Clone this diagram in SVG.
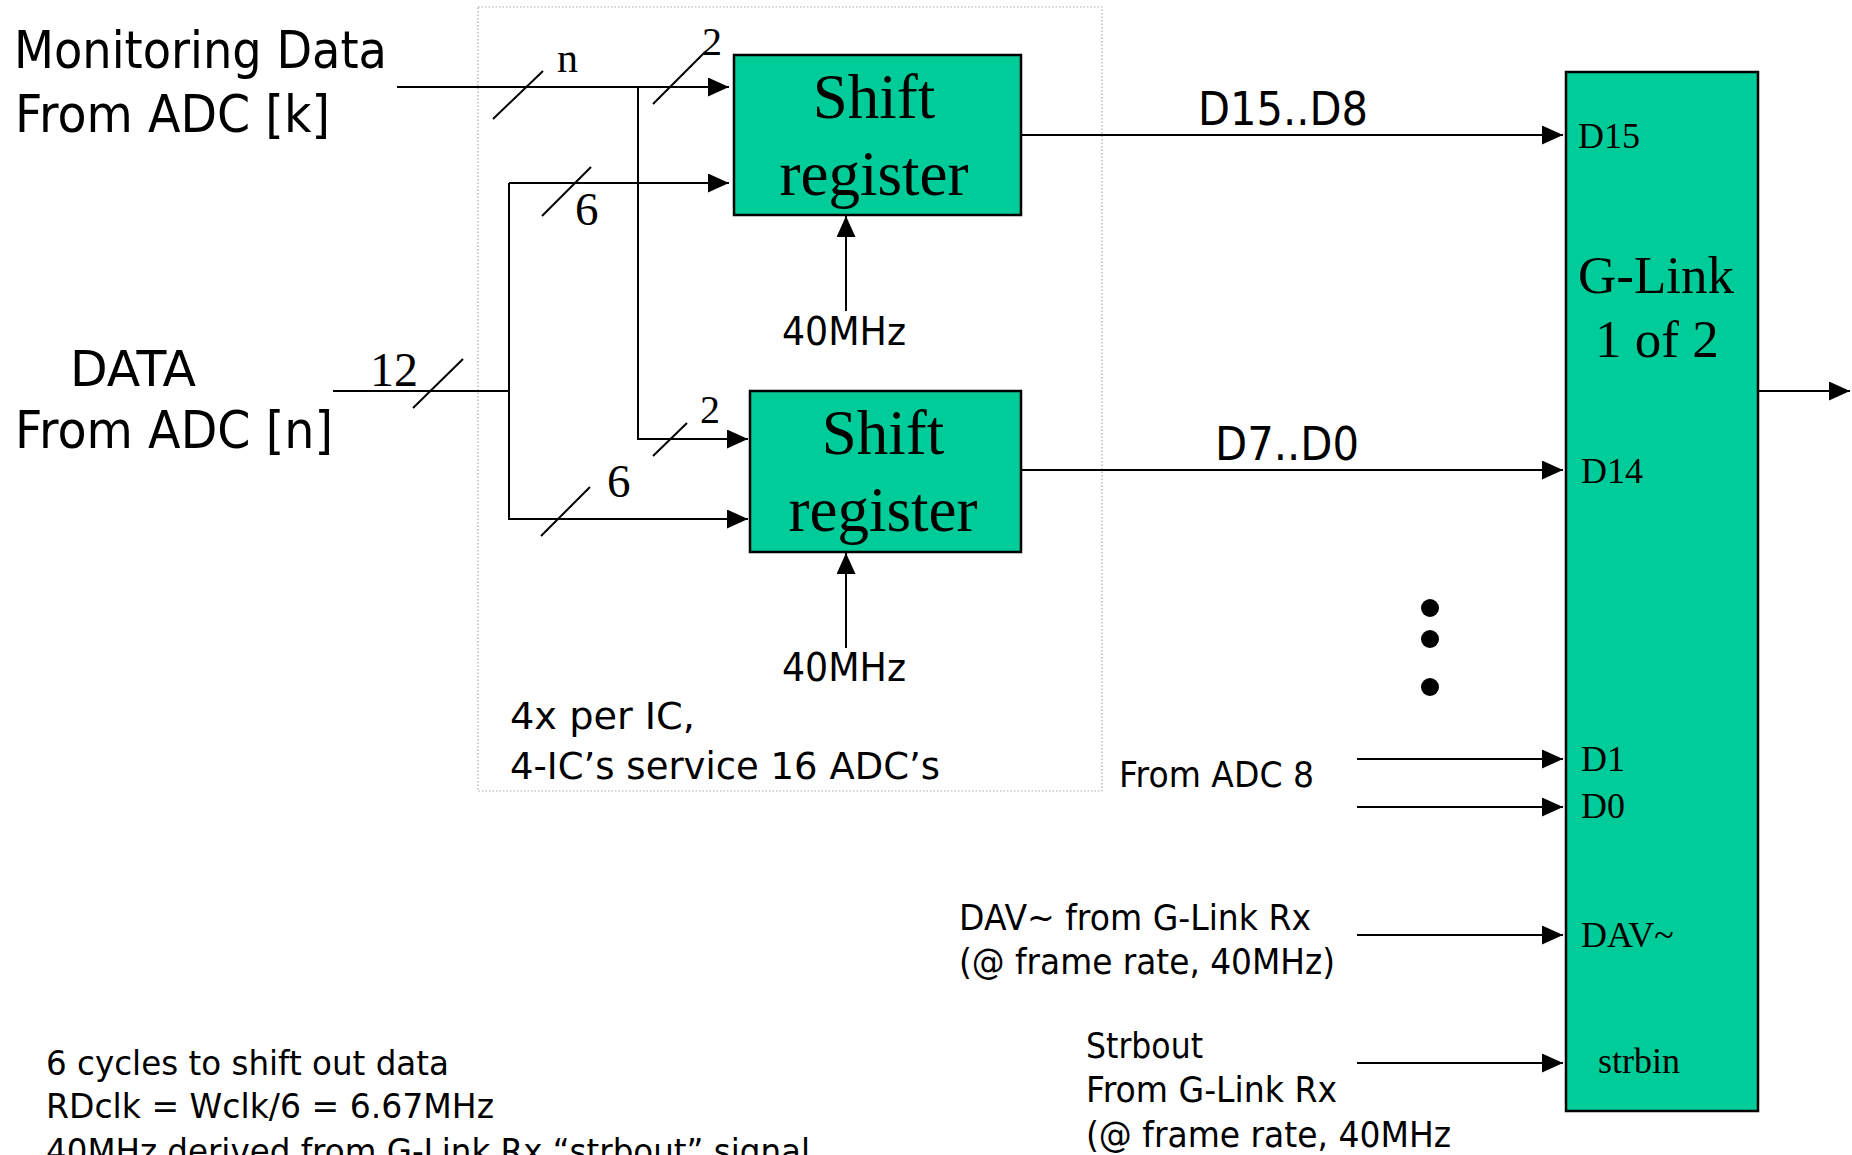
<svg xmlns="http://www.w3.org/2000/svg" width="1852" height="1155" viewBox="0 0 1852 1155">
<style>
.s{font-family:"DejaVu Sans","Liberation Sans",sans-serif;fill:#000}
.t{font-family:"Liberation Serif","Times New Roman",serif;fill:#000}
.w{stroke:#000;stroke-width:2;fill:none}
.box{fill:#00CC99;stroke:#000;stroke-width:2.5}
</style>
<defs>
<marker id="ah" markerUnits="userSpaceOnUse" markerWidth="22" markerHeight="20" refX="21" refY="9.5" orient="auto">
<path d="M0,0 L21,9.5 L0,19 Z" fill="#000"/>
</marker>
</defs>
<rect width="1852" height="1155" fill="#fff"/>

<g id="ic-boundary">
<rect x="478" y="7" width="624" height="784" fill="none" stroke="#aaa" stroke-width="1.2" stroke-dasharray="1.5 2"/>
<text class="s" x="510" y="729" font-size="37" textLength="185" lengthAdjust="spacingAndGlyphs">4x per IC,</text>
<text class="s" x="510" y="779" font-size="37" textLength="430" lengthAdjust="spacingAndGlyphs">4-IC’s service 16 ADC’s</text>
</g>

<g id="connectors">
<!-- monitoring data -->
<path class="w" d="M397,87 H729" marker-end="url(#ah)"/>
<path class="w" d="M638,87 V439 H748" marker-end="url(#ah)"/>
<!-- DATA -->
<path class="w" d="M333,391 H509"/>
<path class="w" d="M509,183 H729" marker-end="url(#ah)"/>
<path class="w" d="M509,183 V519 H748" marker-end="url(#ah)"/>
<!-- bus slashes -->
<path class="w" d="M493,119 L543,71 M653,104 L705,52 M542,216 L591,167 M413,408 L463,359 M653,456 L687,423 M541,536 L590,487"/>
<!-- clocks -->
<path class="w" d="M846,311 V216" marker-end="url(#ah)"/>
<path class="w" d="M846,648 V553" marker-end="url(#ah)"/>
<!-- outputs -->
<path class="w" d="M1021,135 H1563" marker-end="url(#ah)"/>
<path class="w" d="M1021,470 H1563" marker-end="url(#ah)"/>
<path class="w" d="M1357,759 H1563" marker-end="url(#ah)"/>
<path class="w" d="M1357,807 H1563" marker-end="url(#ah)"/>
<path class="w" d="M1357,935 H1563" marker-end="url(#ah)"/>
<path class="w" d="M1357,1063 H1563" marker-end="url(#ah)"/>
<path class="w" d="M1758,391 H1850" marker-end="url(#ah)"/>
</g>

<g id="labels">
<text class="s" x="14" y="68" font-size="52" textLength="373" lengthAdjust="spacingAndGlyphs">Monitoring Data</text>
<text class="s" x="15" y="132" font-size="52" textLength="315" lengthAdjust="spacingAndGlyphs">From ADC [k]</text>
<text class="s" x="70" y="386" font-size="50" textLength="126" lengthAdjust="spacingAndGlyphs">DATA</text>
<text class="s" x="15" y="448" font-size="52" textLength="318" lengthAdjust="spacingAndGlyphs">From ADC [n]</text>
<text class="t" x="557" y="72" font-size="42">n</text>
<text class="t" x="702" y="55" font-size="40">2</text>
<text class="t" x="575" y="225" font-size="47">6</text>
<text class="t" x="370" y="386" font-size="48">12</text>
<text class="t" x="700" y="423" font-size="40">2</text>
<text class="t" x="607" y="497" font-size="47">6</text>
<text class="s" x="782" y="345" font-size="39" textLength="124" lengthAdjust="spacingAndGlyphs">40MHz</text>
<text class="s" x="782" y="681" font-size="39" textLength="124" lengthAdjust="spacingAndGlyphs">40MHz</text>
<text class="s" x="1198" y="125" font-size="46" textLength="170" lengthAdjust="spacingAndGlyphs">D15..D8</text>
<text class="s" x="1215" y="460" font-size="46" textLength="144" lengthAdjust="spacingAndGlyphs">D7..D0</text>
<text class="s" x="1119" y="787" font-size="36" textLength="195" lengthAdjust="spacingAndGlyphs">From ADC 8</text>
<text class="s" x="959" y="930" font-size="35" textLength="352" lengthAdjust="spacingAndGlyphs">DAV~ from G-Link Rx</text>
<text class="s" x="959" y="974" font-size="35" textLength="376" lengthAdjust="spacingAndGlyphs">(@ frame rate, 40MHz)</text>
<text class="s" x="1086" y="1058" font-size="35" textLength="117" lengthAdjust="spacingAndGlyphs">Strbout</text>
<text class="s" x="1086" y="1102" font-size="35" textLength="251" lengthAdjust="spacingAndGlyphs">From G-Link Rx</text>
<text class="s" x="1086" y="1147" font-size="35" textLength="365" lengthAdjust="spacingAndGlyphs">(@ frame rate, 40MHz</text>
<text class="s" x="46" y="1075" font-size="34" textLength="403" lengthAdjust="spacingAndGlyphs">6 cycles to shift out data</text>
<text class="s" x="46" y="1118" font-size="34" textLength="448" lengthAdjust="spacingAndGlyphs">RDclk = Wclk/6 = 6.67MHz</text>
<text class="s" x="46" y="1163" font-size="34" textLength="764" lengthAdjust="spacingAndGlyphs">40MHz derived from G-Link Rx “strbout” signal</text>
</g>

<g id="shift-register-1">
<rect class="box" x="734" y="55" width="287" height="160"/>
<text class="t" x="874" y="118" font-size="63" text-anchor="middle">Shift</text>
<text class="t" x="874" y="195" font-size="63" text-anchor="middle">register</text>
</g>

<g id="shift-register-2">
<rect class="box" x="750" y="391" width="271" height="161"/>
<text class="t" x="883" y="454" font-size="63" text-anchor="middle">Shift</text>
<text class="t" x="883" y="531" font-size="63" text-anchor="middle">register</text>
</g>

<g id="g-link">
<rect class="box" x="1566" y="72" width="192" height="1039"/>
<text class="t" x="1578" y="148" font-size="36">D15</text>
<text class="t" x="1578" y="293" font-size="53">G-Link</text>
<text class="t" x="1595" y="357" font-size="53">1 of 2</text>
<text class="t" x="1581" y="483" font-size="36">D14</text>
<text class="t" x="1581" y="771" font-size="36">D1</text>
<text class="t" x="1581" y="818" font-size="36">D0</text>
<text class="t" x="1581" y="947" font-size="36">DAV~</text>
<text class="t" x="1598" y="1073" font-size="36">strbin</text>
</g>

<g id="ellipsis">
<circle cx="1430" cy="608" r="9"/>
<circle cx="1430" cy="639" r="9"/>
<circle cx="1430" cy="687" r="9"/>
</g>
</svg>
